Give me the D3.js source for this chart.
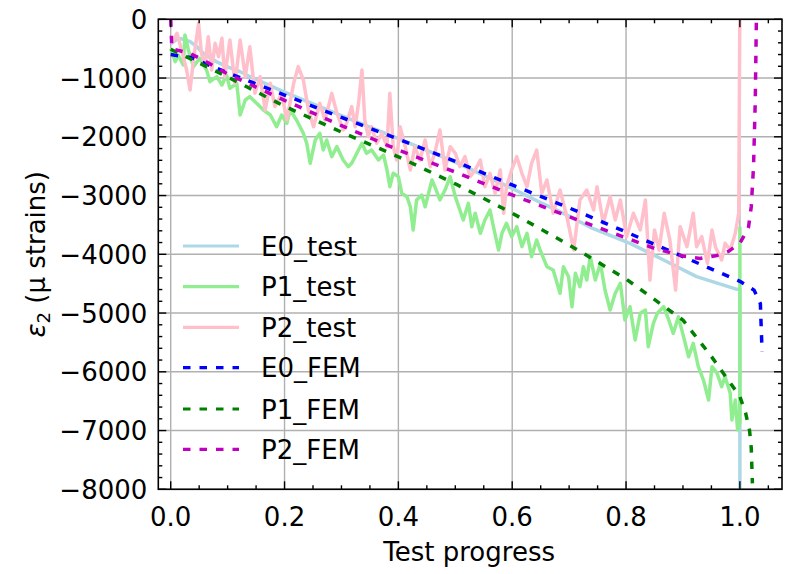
<!DOCTYPE html>
<html>
<head>
<meta charset="utf-8">
<script src="https://cdn.jsdelivr.net/npm/d3@7"></script>
<style>
  html, body { margin: 0; padding: 0; background: #fff; }
  text { font-family: "DejaVu Sans", sans-serif; }
</style>
</head>
<body>
<svg id="chart" width="787" height="574"></svg>
<script>
// ---------------- DATA ----------------
const xTickValues = [0, 0.2, 0.4, 0.6, 0.8, 1.0];
const xTickLabels = ["0.0", "0.2", "0.4", "0.6", "0.8", "1.0"];
const yTickValues = [0, -1000, -2000, -3000, -4000, -5000, -6000, -7000, -8000];
const yTickLabels = ["0", "\u22121000", "\u22122000", "\u22123000", "\u22124000", "\u22125000", "\u22126000", "\u22127000", "\u22128000"];
const seriesNames = ["E0_test", "P1_test", "P2_test", "E0_FEM", "P1_FEM", "P2_FEM"];

const e0Test = [[0,-420],[0.013,-323],[0.022,-340],[0.034,-381],[0.046,-466],[0.057,-579],[0.08,-720],[0.1,-810],[0.122,-892],[0.14,-977],[0.2,-1240],[0.3,-1640],[0.4,-2030],[0.5,-2430],[0.6,-2880],[0.65,-3120],[0.7,-3350],[0.737,-3540],[0.807,-3813],[0.866,-4097],[0.924,-4381],[0.995,-4596],[1.0,-4600],[1.0,-8500]];

const p1Test = [[0,-494],[0.008,-720],[0.013,-608],[0.022,-778],[0.025,-267],[0.031,-522],[0.040,-806],[0.051,-664],[0.063,-863],[0.069,-1062],[0.081,-977],[0.090,-1118],[0.098,-948],[0.104,-1175],[0.116,-1090],[0.122,-1629],[0.131,-1374],[0.139,-1317],[0.151,-1430],[0.163,-1544],[0.175,-1629],[0.186,-1828],[0.195,-1629],[0.204,-1770],[0.210,-1544],[0.221,-1714],[0.233,-1940],[0.239,-2111],[0.245,-2451],[0.254,-2054],[0.262,-1940],[0.268,-2225],[0.274,-2054],[0.283,-2338],[0.292,-2168],[0.303,-2395],[0.312,-2509],[0.318,-2451],[0.336,-2111],[0.344,-2281],[0.353,-2225],[0.365,-2395],[0.374,-2310],[0.380,-2565],[0.385,-2849],[0.391,-2621],[0.400,-2679],[0.406,-2962],[0.415,-3019],[0.421,-3190],[0.426,-3586],[0.432,-3075],[0.441,-2991],[0.447,-3190],[0.453,-2962],[0.459,-2735],[0.464,-2849],[0.473,-3075],[0.482,-2906],[0.491,-2679],[0.500,-3019],[0.508,-3246],[0.514,-3416],[0.523,-3132],[0.529,-3530],[0.535,-3302],[0.544,-3643],[0.552,-3416],[0.561,-3246],[0.567,-3530],[0.576,-3927],[0.582,-3643],[0.590,-3472],[0.599,-3700],[0.608,-3530],[0.617,-3870],[0.626,-3643],[0.634,-4040],[0.643,-3757],[0.649,-3927],[0.661,-4211],[0.672,-4267],[0.684,-4664],[0.690,-4211],[0.699,-4381],[0.705,-4892],[0.711,-4323],[0.719,-4551],[0.725,-4211],[0.731,-4438],[0.737,-4040],[0.746,-4438],[0.755,-4153],[0.763,-4608],[0.772,-4948],[0.781,-4664],[0.790,-4494],[0.798,-5118],[0.807,-4892],[0.816,-5459],[0.825,-5004],[0.834,-4948],[0.839,-5573],[0.848,-5175],[0.855,-5004],[0.866,-4892],[0.875,-5118],[0.883,-5345],[0.892,-5062],[0.901,-5402],[0.910,-5743],[0.918,-5515],[0.927,-5913],[0.936,-6140],[0.945,-6480],[0.951,-5913],[0.960,-6026],[0.968,-6253],[0.974,-6083],[0.983,-6366],[0.986,-6820],[0.992,-6480],[0.996,-6990],[1.0,-6850],[1.0,-3530]];

const p2Test = [[0.002,-409],[0.011,-238],[0.019,-522],[0.028,-863],[0.034,-1203],[0.040,-693],[0.049,-68],[0.054,-579],[0.060,-806],[0.066,-296],[0.072,-863],[0.078,-409],[0.084,-636],[0.090,-323],[0.095,-977],[0.104,-352],[0.113,-1090],[0.122,-352],[0.131,-977],[0.139,-466],[0.148,-1260],[0.157,-977],[0.166,-1544],[0.175,-1090],[0.183,-1487],[0.195,-1260],[0.204,-1714],[0.216,-1090],[0.224,-806],[0.233,-1033],[0.242,-1544],[0.251,-1828],[0.262,-1430],[0.271,-1714],[0.283,-1260],[0.292,-1600],[0.303,-1884],[0.309,-1770],[0.318,-1487],[0.324,-1828],[0.330,-1430],[0.336,-863],[0.341,-1714],[0.347,-1998],[0.353,-1828],[0.362,-2111],[0.371,-1941],[0.380,-2168],[0.385,-1260],[0.391,-2168],[0.397,-2395],[0.403,-1828],[0.412,-2168],[0.421,-2565],[0.429,-2168],[0.438,-2395],[0.447,-2054],[0.456,-2509],[0.464,-2281],[0.473,-1884],[0.482,-2565],[0.491,-2168],[0.500,-2281],[0.508,-2509],[0.517,-2338],[0.526,-2679],[0.535,-2565],[0.544,-2395],[0.552,-2849],[0.561,-2621],[0.570,-2962],[0.579,-2565],[0.585,-3302],[0.590,-2849],[0.599,-2565],[0.608,-2338],[0.617,-2621],[0.626,-2849],[0.634,-2451],[0.643,-2225],[0.652,-2957],[0.661,-2735],[0.672,-3302],[0.684,-2906],[0.696,-3360],[0.708,-3927],[0.719,-3075],[0.731,-2906],[0.743,-3246],[0.749,-2849],[0.760,-3472],[0.772,-3019],[0.781,-3416],[0.790,-3075],[0.801,-3700],[0.813,-3302],[0.825,-3586],[0.834,-3075],[0.842,-4438],[0.850,-3586],[0.858,-3927],[0.867,-3302],[0.877,-3757],[0.887,-4608],[0.895,-3530],[0.907,-3870],[0.918,-3302],[0.924,-3870],[0.933,-3700],[0.943,-4153],[0.951,-3586],[0.957,-3870],[0.968,-4097],[0.974,-3813],[0.983,-3927],[0.992,-3643],[0.998,-3302],[1.0,300]];

const e0Fem = [[0,-600],[0.035,-650],[0.1,-910],[0.2,-1290],[0.3,-1670],[0.4,-2040],[0.5,-2420],[0.6,-2820],[0.7,-3210],[0.8,-3620],[0.9,-4040],[1.0,-4460],[1.025,-4610],[1.036,-4840],[1.039,-5660]];

const p1Fem = [[0,-510],[0.1,-980],[0.2,-1480],[0.3,-1920],[0.4,-2340],[0.5,-2800],[0.6,-3300],[0.7,-3840],[0.8,-4420],[0.9,-5120],[0.95,-5740],[1.0,-6420],[1.01,-6700],[1.017,-7000],[1.02,-7300],[1.022,-7900]];

const p2Fem = [[0,0],[0.002,-500],[0.034,-580],[0.057,-693],[0.1,-930],[0.2,-1380],[0.3,-1810],[0.4,-2225],[0.5,-2600],[0.6,-2990],[0.7,-3360],[0.8,-3720],[0.85,-3900],[0.9,-4030],[0.93,-4070],[0.96,-4020],[0.98,-3950],[1.0,-3810],[1.015,-3550],[1.02,-3190],[1.024,-2500],[1.027,-1400],[1.029,0]];

// ---------------- LAYOUT ----------------
const svg = d3.select("#chart");
const L = 158.3, T = 19.3, R = 782, B = 489.3;
const x = d3.scaleLinear().domain([-0.0218, 1.074]).range([L, R]);
const y = d3.scaleLinear().domain([-8000, 0]).range([B, T]);
const FS = 26;

svg.append("rect").attr("width", 787).attr("height", 574).attr("fill", "#fff");

// grid
const grid = svg.append("g");
grid.selectAll("line.gx").data(xTickValues).enter().append("line")
  .attr("x1", d => x(d)).attr("x2", d => x(d)).attr("y1", T).attr("y2", B)
  .attr("stroke", "#b0b0b0").attr("stroke-width", 1.4);
grid.selectAll("line.gy").data(yTickValues).enter().append("line")
  .attr("y1", d => y(d)).attr("y2", d => y(d)).attr("x1", L).attr("x2", R)
  .attr("stroke", "#b0b0b0").attr("stroke-width", 1.4);

// clip
svg.append("clipPath").attr("id", "clip").append("rect")
  .attr("x", L).attr("y", T).attr("width", R - L).attr("height", B - T);

const line = d3.line().x(d => x(d[0])).y(d => y(d[1]));
const plot = svg.append("g").attr("clip-path", "url(#clip)");

const styles = [
  { data: e0Test, color: "#add8e6", dash: null },
  { data: p1Test, color: "#90ee90", dash: null },
  { data: p2Test, color: "#ffc0cb", dash: null },
  { data: e0Fem, color: "#0000ff", dash: "7.5,9" },
  { data: p1Fem, color: "#008000", dash: "7.5,9" },
  { data: p2Fem, color: "#bf00bf", dash: "7.5,9" }
];

styles.forEach(s => {
  plot.append("path").datum(s.data)
    .attr("d", line)
    .attr("fill", "none")
    .attr("stroke", s.color)
    .attr("stroke-width", 3.5)
    .attr("stroke-linejoin", "round")
    .attr("stroke-dasharray", s.dash);
});

// ticks (inward, all four sides)
const tickG = svg.append("g").attr("stroke", "#000").attr("stroke-width", 1.4);
const xMinor = d3.range(0, 21).map(i => i * 0.05).concat([1.05]).filter(v => !xTickValues.some(t => Math.abs(t - v) < 1e-6));
const yMinor = d3.range(-8000, 1, 200).filter(v => v % 1000 !== 0);
const MAJ = 8, MIN = 4;
xTickValues.forEach(v => {
  tickG.append("line").attr("x1", x(v)).attr("x2", x(v)).attr("y1", B).attr("y2", B - MAJ);
  tickG.append("line").attr("x1", x(v)).attr("x2", x(v)).attr("y1", T).attr("y2", T + MAJ);
});
xMinor.forEach(v => {
  tickG.append("line").attr("x1", x(v)).attr("x2", x(v)).attr("y1", B).attr("y2", B - MIN);
  tickG.append("line").attr("x1", x(v)).attr("x2", x(v)).attr("y1", T).attr("y2", T + MIN);
});
yTickValues.forEach(v => {
  tickG.append("line").attr("y1", y(v)).attr("y2", y(v)).attr("x1", L).attr("x2", L + MAJ);
  tickG.append("line").attr("y1", y(v)).attr("y2", y(v)).attr("x1", R).attr("x2", R - MAJ);
});
yMinor.forEach(v => {
  tickG.append("line").attr("y1", y(v)).attr("y2", y(v)).attr("x1", L).attr("x2", L + MIN);
  tickG.append("line").attr("y1", y(v)).attr("y2", y(v)).attr("x1", R).attr("x2", R - MIN);
});

// frame
svg.append("rect").attr("x", L).attr("y", T).attr("width", R - L).attr("height", B - T)
  .attr("fill", "none").attr("stroke", "#000").attr("stroke-width", 1.6);

// tick labels
svg.append("g").selectAll("text").data(xTickValues).enter().append("text")
  .attr("x", d => x(d)).attr("y", B + 37)
  .attr("text-anchor", "middle").attr("font-size", FS).attr("fill", "#000")
  .text((d, i) => xTickLabels[i]);
svg.append("g").selectAll("text").data(yTickValues).enter().append("text")
  .attr("x", L - 11).attr("y", d => y(d) + 9.5)
  .attr("text-anchor", "end").attr("font-size", FS).attr("fill", "#000")
  .text((d, i) => yTickLabels[i]);

// axis labels
svg.append("text").attr("x", (L + R) / 2 - 1).attr("y", 561)
  .attr("text-anchor", "middle").attr("font-size", FS).attr("fill", "#000")
  .text("Test progress");
const yl = svg.append("text")
  .attr("transform", `translate(45,${(T + B) / 2}) rotate(-90)`)
  .attr("text-anchor", "middle").attr("font-size", FS).attr("fill", "#000");
yl.append("tspan").attr("font-style", "italic").text("\u03b5");
yl.append("tspan").attr("font-size", FS * 0.7).attr("dy", 5).text("2");
yl.append("tspan").attr("dy", -5).text(" (\u00b5 strains)");

// legend
const legY = [246, 286.7, 327.3, 367.7, 409, 449.3];
const leg = svg.append("g");
styles.forEach((s, i) => {
  leg.append("line").attr("x1", 183).attr("x2", 239).attr("y1", legY[i]).attr("y2", legY[i])
    .attr("stroke", s.color).attr("stroke-width", 3.2)
    .attr("stroke-dasharray", s.dash);
  leg.append("text").attr("x", 261).attr("y", legY[i] + 9.5)
    .attr("font-size", FS).attr("fill", "#000").text(seriesNames[i]);
});
</script>
</body>
</html>
